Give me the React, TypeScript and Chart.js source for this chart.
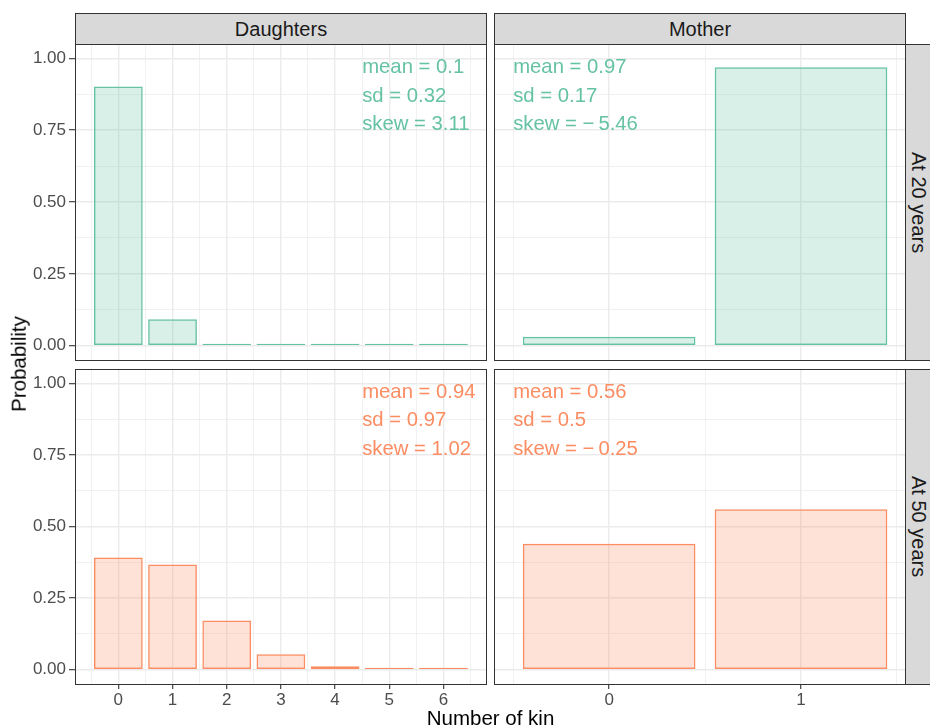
import React, { useEffect, useRef } from "react";
import { Chart, registerables } from "chart.js";

Chart.register(...registerables);

const FONT = "'Liberation Sans', Arial, Helvetica, sans-serif";

// Number of kin on the x axis of each column
const daughterKin = [0, 1, 2, 3, 4, 5, 6];
const motherKin = [0, 1];

// Probability of each kin count
const daughtersAt20 = [0.902, 0.092, 0.005, 0.0008, 0.0002, 0.0001, 0.0001];
const motherAt20 = [0.031, 0.969];
const daughtersAt50 = [0.392, 0.367, 0.172, 0.054, 0.012, 0.003, 0.001];
const motherAt50 = [0.44, 0.56];

// Summary statistics printed inside each panel
const daughtersAt20Stats = ["mean = 0.1", "sd = 0.32", "skew = 3.11"];
const motherAt20Stats = ["mean = 0.97", "sd = 0.17", "skew = \u2212\u20095.46"];
const daughtersAt50Stats = ["mean = 0.94", "sd = 0.97", "skew = 1.02"];
const motherAt50Stats = ["mean = 0.56", "sd = 0.5", "skew = \u2212\u20090.25"];
const statYs = [1, 0.9, 0.8];

// Tick positions: majors every 0.25 / 1, minors half way between
const yTickValues = [0, 0.125, 0.25, 0.375, 0.5, 0.625, 0.75, 0.875, 1];
const daughterXTicks = [-0.5, 0, 0.5, 1, 1.5, 2, 2.5, 3, 3.5, 4, 4.5, 5, 5.5, 6, 6.5];
const motherXTicks = [-0.5, 0, 0.5, 1, 1.5];

const columnLabels = ["Daughters", "Mother"];
const rowLabels = ["At 20 years", "At 50 years"];

const GREEN = "#66C2A5";
const GREEN_FILL = "rgba(102,194,165,0.25)";
const ORANGE = "#FC8D62";
const ORANGE_FILL = "rgba(252,141,98,0.25)";

const isMajor = (v: number, step: number) => Math.abs(v / step - Math.round(v / step)) < 1e-6;

const statsTextPlugin = {
  id: "statsText",
  afterDatasetsDraw(chart: any, _args: any, opts: any) {
    const { ctx } = chart;
    const x = chart.scales.x;
    const y = chart.scales.y;
    ctx.save();
    ctx.font = `20.3px ${FONT}`;
    ctx.fillStyle = opts.color;
    ctx.textAlign = "left";
    ctx.textBaseline = "alphabetic";
    (opts.lines as string[]).forEach((line, i) => {
      ctx.fillText(line, x.getPixelForValue(opts.x), y.getPixelForValue(statYs[i]) + 14.5);
    });
    ctx.restore();
  },
};

const panelBorderPlugin = {
  id: "panelBorder",
  afterDraw(chart: any) {
    const { ctx, chartArea: a } = chart;
    ctx.save();
    ctx.strokeStyle = "#333333";
    ctx.lineWidth = 1;
    ctx.strokeRect(a.left + 0.5, a.top + 0.5, a.right - a.left, a.bottom - a.top);
    ctx.restore();
  },
};

type PanelProps = {
  kin: number[];
  values: number[];
  stats: string[];
  color: string;
  fill: string;
  xMin: number;
  xMax: number;
  xTicks: number[];
  textX: number;
  showX: boolean;
  showY: boolean;
  left: number;
  top: number;
  width: number;
  height: number;
  padding: { left: number; right: number; top: number; bottom: number };
  xAxisHeight: number;
};

function Panel(p: PanelProps) {
  const ref = useRef<HTMLCanvasElement | null>(null);

  useEffect(() => {
    if (!ref.current) return;
    const chart = new Chart(ref.current, {
      type: "bar",
      data: {
        datasets: [
          {
            data: p.kin.map((k, i) => ({ x: k, y: p.values[i] })),
            backgroundColor: p.fill,
            borderColor: p.color,
            borderWidth: 1.5,
            borderSkipped: false,
            // ticks sit every half unit, so the measured sample is 0.5 wide -> 0.9 unit bars
            barPercentage: 1.8,
            categoryPercentage: 1,
            minBarLength: 2,
          } as any,
        ],
      },
      options: {
        animation: false,
        responsive: false,
        events: [],
        layout: { padding: p.padding },
        plugins: {
          legend: { display: false },
          tooltip: { enabled: false },
          statsText: { lines: p.stats, color: p.color, x: p.textX },
        } as any,
        scales: {
          x: {
            type: "linear",
            min: p.xMin,
            max: p.xMax,
            offset: false,
            border: { display: false },
            grid: {
              offset: false,
              color: "#EBEBEB",
              lineWidth: (c: any) => (isMajor(c.tick?.value ?? 0, 1) ? 1.4 : 0.7),
              drawTicks: p.showX,
              tickLength: 5,
              tickWidth: 1.1,
              tickColor: (c: any) => (isMajor(c.tick?.value ?? 0, 1) ? "#333333" : "rgba(0,0,0,0)"),
            },
            ticks: {
              display: p.showX,
              autoSkip: false,
              maxRotation: 0,
              padding: 1,
              color: "#4D4D4D",
              font: { family: FONT, size: 17 },
              callback: (v: any) => (isMajor(Number(v), 1) ? String(Math.round(Number(v))) : ""),
            },
            afterBuildTicks: (s: any) => {
              s.ticks = p.xTicks.map((v) => ({ value: v }));
            },
            afterFit: (s: any) => {
              s.height = p.xAxisHeight;
              s.paddingLeft = 0;
              s.paddingRight = 0;
            },
          } as any,
          y: {
            type: "linear",
            min: -0.05,
            max: 1.05,
            border: { display: false },
            grid: {
              color: "#EBEBEB",
              lineWidth: (c: any) => (isMajor(c.tick?.value ?? 0, 0.25) ? 1.4 : 0.7),
              drawTicks: p.showY,
              tickLength: 6,
              tickWidth: 1.1,
              tickColor: (c: any) =>
                isMajor(c.tick?.value ?? 0, 0.25) ? "#333333" : "rgba(0,0,0,0)",
            },
            ticks: {
              display: p.showY,
              autoSkip: false,
              padding: 3,
              color: "#4D4D4D",
              font: { family: FONT, size: 17 },
              callback: (v: any) => (isMajor(Number(v), 0.25) ? Number(v).toFixed(2) : ""),
            },
            afterBuildTicks: (s: any) => {
              s.ticks = yTickValues.map((v) => ({ value: v }));
            },
            afterFit: (s: any) => {
              s.width = p.showY ? 75 : 0;
              s.paddingTop = 0;
              s.paddingBottom = 0;
            },
          } as any,
        },
      },
      plugins: [statsTextPlugin, panelBorderPlugin],
    });
    return () => chart.destroy();
  }, []);

  return (
    <canvas
      ref={ref}
      width={p.width}
      height={p.height}
      style={{ position: "absolute", left: p.left, top: p.top, width: p.width, height: p.height }}
    />
  );
}

const stripStyle: React.CSSProperties = {
  position: "absolute",
  boxSizing: "border-box",
  background: "#D9D9D9",
  border: "1px solid #333333",
  display: "flex",
  alignItems: "center",
  justifyContent: "center",
  color: "#1A1A1A",
  fontSize: 20,
  lineHeight: 1,
  whiteSpace: "nowrap",
};

export default function App() {
  return (
    <div
      style={{
        position: "absolute",
        left: 0,
        top: 0,
        width: 930,
        height: 728,
        overflow: "hidden",
        background: "#FFFFFF",
        fontFamily: FONT,
      }}
    >
      <Panel
        kin={daughterKin}
        values={daughtersAt20}
        stats={daughtersAt20Stats}
        color={GREEN}
        fill={GREEN_FILL}
        xMin={-0.8}
        xMax={6.785}
        xTicks={daughterXTicks}
        textX={4.5}
        showX={false}
        showY={true}
        left={0}
        top={40}
        width={490}
        height={324}
        padding={{ left: 0, right: 4, top: 4, bottom: 4 }}
        xAxisHeight={0}
      />
      <Panel
        kin={motherKin}
        values={motherAt20}
        stats={motherAt20Stats}
        color={GREEN}
        fill={GREEN_FILL}
        xMin={-0.6}
        xMax={1.542}
        xTicks={motherXTicks}
        textX={-0.5}
        showX={false}
        showY={false}
        left={490}
        top={40}
        width={440}
        height={324}
        padding={{ left: 4, right: 25, top: 4, bottom: 4 }}
        xAxisHeight={0}
      />
      <Panel
        kin={daughterKin}
        values={daughtersAt50}
        stats={daughtersAt50Stats}
        color={ORANGE}
        fill={ORANGE_FILL}
        xMin={-0.8}
        xMax={6.785}
        xTicks={daughterXTicks}
        textX={4.5}
        showX={true}
        showY={true}
        left={0}
        top={365}
        width={490}
        height={363}
        padding={{ left: 0, right: 4, top: 4, bottom: 0 }}
        xAxisHeight={44}
      />
      <Panel
        kin={motherKin}
        values={motherAt50}
        stats={motherAt50Stats}
        color={ORANGE}
        fill={ORANGE_FILL}
        xMin={-0.6}
        xMax={1.542}
        xTicks={motherXTicks}
        textX={-0.5}
        showX={true}
        showY={false}
        left={490}
        top={365}
        width={440}
        height={363}
        padding={{ left: 4, right: 25, top: 4, bottom: 0 }}
        xAxisHeight={44}
      />

      <div style={{ ...stripStyle, left: 75, top: 13, width: 412, height: 32 }}>{columnLabels[0]}</div>
      <div style={{ ...stripStyle, left: 494, top: 13, width: 412, height: 32 }}>{columnLabels[1]}</div>
      <div style={{ ...stripStyle, left: 905, top: 44, width: 27, height: 317, writingMode: "vertical-rl" }}>
        {rowLabels[0]}
      </div>
      <div style={{ ...stripStyle, left: 905, top: 369, width: 27, height: 316, writingMode: "vertical-rl" }}>
        {rowLabels[1]}
      </div>

      <div
        style={{
          position: "absolute",
          left: 490.5,
          top: 718,
          transform: "translate(-50%, -50%)",
          fontSize: 20.5,
          lineHeight: 1,
          color: "#000000",
          whiteSpace: "nowrap",
        }}
      >
        Number of kin
      </div>
      <div
        style={{
          position: "absolute",
          left: 19,
          top: 364,
          transform: "translate(-50%, -50%) rotate(-90deg)",
          fontSize: 20.5,
          lineHeight: 1,
          color: "#000000",
          whiteSpace: "nowrap",
        }}
      >
        Probability
      </div>
    </div>
  );
}
